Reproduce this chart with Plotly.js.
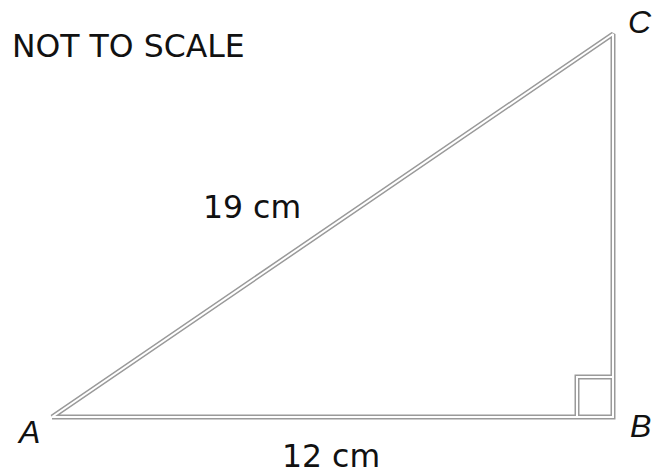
<!DOCTYPE html>
<html>
<head>
<meta charset="utf-8">
<script src="https://cdn.plot.ly/plotly-3.0.1.min.js"></script>
<style>html,body{margin:0;padding:0;background:#fff;}#chart{width:653px;height:474px;}</style>
</head>
<body>
<div id="chart"></div>
<script>
// Triangle vertices A, B, C (closed path)
const triX = [52, 613, 613, 52];
const triY = [417, 417, 34, 417];
// Right-angle marker at B
const sqX = [613, 577, 577];
const sqY = [377, 377, 417];
// Labels
const labelText = ['NOT TO SCALE', '19 cm', '12 cm'];
const labelX = [128, 252, 331];
const labelY = [46, 207, 456];
const vertexText = ['A', 'B', 'C'];
const vertexX = [28, 640, 640];
const vertexY = [432, 426, 22];

const outer = {color: '#9a9a9a', width: 5};
const inner = {color: '#ffffff', width: 2};
const traces = [
  {x: triX, y: triY, mode: 'lines', line: outer, hoverinfo: 'skip'},
  {x: sqX, y: sqY, mode: 'lines', line: outer, hoverinfo: 'skip'},
  {x: triX, y: triY, mode: 'lines', line: inner, hoverinfo: 'skip'},
  {x: sqX, y: sqY, mode: 'lines', line: inner, hoverinfo: 'skip'}
];
const annotations = [];
labelText.forEach((t, i) => annotations.push({
  x: labelX[i], y: labelY[i], xref: 'x', yref: 'y', text: t, showarrow: false,
  font: {family: 'DejaVu Sans', size: 31.5, color: '#111'}, xanchor: 'center', yanchor: 'middle'
}));
vertexText.forEach((t, i) => annotations.push({
  x: vertexX[i], y: vertexY[i], xref: 'x', yref: 'y', text: '<i>' + t + '</i>', showarrow: false,
  font: {family: 'Liberation Sans', size: 32, color: '#111'}, xanchor: 'center', yanchor: 'middle'
}));
const layout = {
  width: 653, height: 474,
  margin: {l: 0, r: 0, t: 0, b: 0},
  paper_bgcolor: '#fff', plot_bgcolor: '#fff',
  showlegend: false,
  xaxis: {range: [0, 653], visible: false, fixedrange: true},
  yaxis: {range: [474, 0], visible: false, fixedrange: true},
  annotations: annotations
};
Plotly.newPlot('chart', traces, layout, {displayModeBar: false, staticPlot: true});
</script>
</body>
</html>
